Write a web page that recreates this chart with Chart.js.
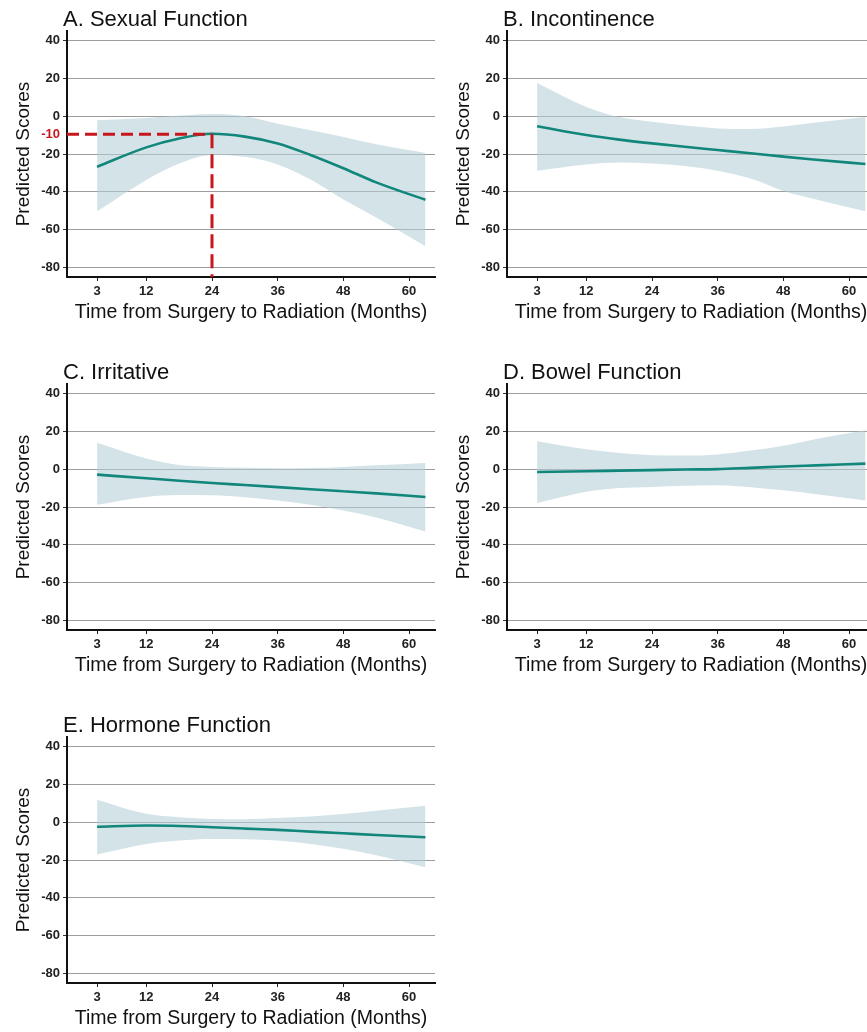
<!DOCTYPE html>
<html>
<head>
<meta charset="utf-8">
<script src="https://cdn.jsdelivr.net/npm/chart.js@4.4.0/dist/chart.umd.min.js"></script>
<style>
  html, body { margin:0; padding:0; background:#fff; }
  body { width:867px; height:1032px; overflow:hidden; position:relative; }
  .panel { position:absolute; width:440px; height:330px; }
</style>
</head>
<body>
<div class="panel" style="left:0;top:0"><canvas id="chartA"></canvas></div>
<div class="panel" style="left:440px;top:0"><canvas id="chartB"></canvas></div>
<div class="panel" style="left:0;top:353px"><canvas id="chartC"></canvas></div>
<div class="panel" style="left:440px;top:353px"><canvas id="chartD"></canvas></div>
<div class="panel" style="left:0;top:706px"><canvas id="chartE"></canvas></div>
<script>
// ---------------------------------------------------------------
// Values (predicted scores with 95% band)
// ---------------------------------------------------------------
const months = [3, 12, 18, 24, 30, 36, 42, 48, 54, 63];
const xTicks = [3, 12, 24, 36, 48, 60];
const yTicks = [40, 20, 0, -20, -40, -60, -80];

const sexualFit   = [-26.7, -16.5, -11.8, -9.3, -10.8, -14.4, -20.5, -27.5, -35.0, -44.2];
const sexualUpper = [-2.1, -1.0, 0.3, 1.2, 0.0, -4.0, -7.5, -11.0, -14.9, -19.5];
const sexualLower = [-50.3, -33.7, -25.0, -20.5, -21.5, -25.5, -33.5, -44.0, -53.5, -68.8];

const incontFit   = [-5.3, -10.0, -12.4, -14.4, -16.2, -17.9, -19.6, -21.4, -23.0, -25.3];
const incontUpper = [17.5, 4.9, -0.5, -3.0, -5.0, -6.5, -6.8, -5.5, -3.4, -0.4];
const incontLower = [-28.8, -25.5, -24.5, -25.0, -26.3, -28.8, -33.0, -39.5, -44.0, -50.3];

const irritFit   = [-2.9, -4.8, -6.1, -7.3, -8.4, -9.5, -10.6, -11.7, -12.8, -14.7];
const irritUpper = [13.9, 5.6, 2.2, 1.2, 0.8, 0.5, 0.6, 1.2, 2.0, 3.3];
const irritLower = [-18.8, -14.7, -13.7, -13.8, -14.8, -16.5, -18.8, -21.8, -25.5, -32.9];

const bowelFit   = [-1.5, -1.1, -0.8, -0.5, -0.2, 0.0, 0.7, 1.4, 2.0, 2.9];
const bowelUpper = [14.8, 10.5, 8.5, 7.4, 7.2, 7.8, 9.8, 12.4, 16.0, 20.6];
const bowelLower = [-17.9, -12.0, -10.0, -9.4, -8.8, -8.5, -9.5, -11.2, -13.2, -16.5];

const hormFit   = [-2.4, -1.8, -2.0, -2.7, -3.4, -4.1, -5.0, -5.9, -6.8, -8.0];
const hormUpper = [11.9, 4.4, 2.6, 1.7, 1.6, 2.2, 3.0, 4.3, 6.0, 8.7];
const hormLower = [-17.1, -11.5, -9.7, -8.9, -9.0, -9.7, -11.5, -14.1, -17.5, -23.8];

// reference marker in panel A (peak of the sexual function curve)
const peakMonth = 24;
const peakScore = -9.5;
const peakLabel = '-10';

const xMin = -2.5, xMax = 64.75, yMin = -85, yMax = 45;

const TEAL = '#11867b';
const BAND = 'rgba(180,207,213,0.58)';
const RED  = '#c8161d';
const FONT = "'Liberation Sans', Arial, sans-serif";

// ---------------------------------------------------------------
// Small plugin: panel title above the plot, and the red label
// ---------------------------------------------------------------
const panelText = {
  id: 'panelText',
  afterDraw(chart, args, opts) {
    const ctx = chart.ctx;
    const area = chart.chartArea;
    ctx.save();
    ctx.fillStyle = '#111';
    ctx.font = '22px ' + FONT;
    ctx.textBaseline = 'middle';
    ctx.textAlign = 'left';
    ctx.fillText(opts.title, area.left - 4, 20);
    if (opts.marker) {
      const y = chart.scales.y.getPixelForValue(peakScore);
      ctx.fillStyle = RED;
      ctx.font = 'bold 13px ' + FONT;
      ctx.textAlign = 'right';
      ctx.fillText(peakLabel, area.left - 7, y);
    }
    ctx.restore();
  }
};

function pts(vals){ return months.map((m, i) => ({ x: m, y: vals[i] })); }

function makeChart(id, title, fit, upper, lower, marker){
  const datasets = [];
  if (marker) {
    datasets.push({
      data: [{ x: xMin, y: peakScore }, { x: peakMonth, y: peakScore }],
      borderColor: RED, borderWidth: 3, borderDash: [12, 6], pointRadius: 0, fill: false
    });
    datasets.push({
      data: [{ x: peakMonth, y: peakScore }, { x: peakMonth, y: yMin }],
      borderColor: RED, borderWidth: 3, borderDash: [14, 6], pointRadius: 0, fill: false
    });
  }
  datasets.push({
    data: pts(fit), borderColor: TEAL, borderWidth: 2.6, pointRadius: 0,
    cubicInterpolationMode: 'monotone', fill: false
  });
  datasets.push({
    data: pts(upper), borderWidth: 0, borderColor: 'rgba(0,0,0,0)', backgroundColor: BAND,
    pointRadius: 0, cubicInterpolationMode: 'monotone', fill: '+1'
  });
  datasets.push({
    data: pts(lower), borderWidth: 0, borderColor: 'rgba(0,0,0,0)', backgroundColor: BAND,
    pointRadius: 0, cubicInterpolationMode: 'monotone', fill: false
  });

  new Chart(document.getElementById(id), {
    type: 'line',
    data: { datasets },
    plugins: [panelText],
    options: {
      responsive: true,
      maintainAspectRatio: false,
      animation: false,
      layout: { padding: { left: 0, right: 5, top: 31, bottom: 0 } },
      plugins: {
        legend: { display: false },
        tooltip: { enabled: false },
        panelText: { title, marker }
      },
      scales: {
        x: {
          type: 'linear', min: xMin, max: xMax,
          afterBuildTicks: s => { s.ticks = xTicks.map(v => ({ value: v })); },
          afterFit: s => { s.height = 53; },
          grid: { drawOnChartArea: false, tickLength: 4, tickColor: '#222' },
          border: { color: '#111', width: 2 },
          ticks: { color: '#222', padding: 3, font: { family: FONT, size: 13, weight: 'bold' } },
          title: {
            display: true, text: 'Time from Surgery to Radiation (Months)',
            color: '#111', font: { family: FONT, size: 19.5 }, padding: { top: 0, bottom: 6 }
          }
        },
        y: {
          min: yMin, max: yMax,
          afterBuildTicks: s => { s.ticks = yTicks.map(v => ({ value: v })); },
          afterFit: s => { s.width = 67; },
          grid: { color: '#9c9c9c', lineWidth: 1, tickLength: 4, tickColor: '#333' },
          border: { color: '#111', width: 2 },
          ticks: { color: '#222', padding: 3, font: { family: FONT, size: 13, weight: 'bold' } },
          title: {
            display: true, text: 'Predicted Scores',
            color: '#111', font: { family: FONT, size: 19 }, padding: { top: 12, bottom: 0 }
          }
        }
      }
    }
  });
}

makeChart('chartA', 'A. Sexual Function', sexualFit, sexualUpper, sexualLower, true);
makeChart('chartB', 'B. Incontinence', incontFit, incontUpper, incontLower, false);
makeChart('chartC', 'C. Irritative', irritFit, irritUpper, irritLower, false);
makeChart('chartD', 'D. Bowel Function', bowelFit, bowelUpper, bowelLower, false);
makeChart('chartE', 'E. Hormone Function', hormFit, hormUpper, hormLower, false);
</script>
</body>
</html>
